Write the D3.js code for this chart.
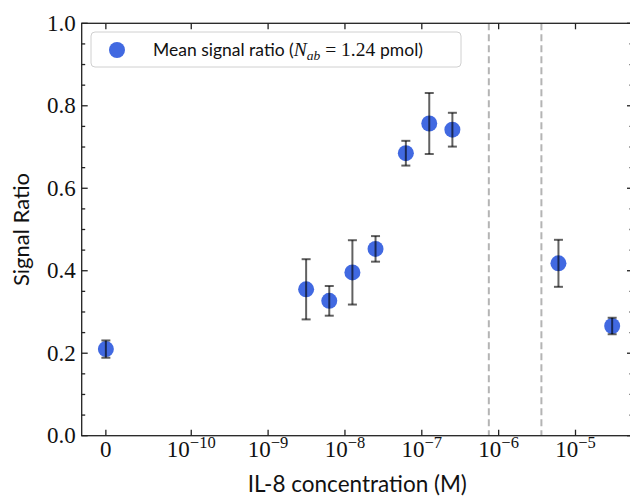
<!DOCTYPE html>
<html><head><meta charset="utf-8">
<script src="https://cdn.jsdelivr.net/npm/d3@7"></script>
<style>body{margin:0;background:#fff}svg{display:block}</style>
</head><body><svg id="c" width="630" height="498"></svg>
<script>
// ---- data ----
const concentrations = [0, 3.125e-9, 6.25e-9, 1.25e-8, 2.5e-8, 6.2e-8, 1.25e-7, 2.5e-7, 6.0e-6, 3.0e-5];
const meanRatio     = [0.210, 0.355, 0.327, 0.396, 0.453, 0.685, 0.757, 0.742, 0.418, 0.266];
const ratioErr      = [0.021, 0.073, 0.036, 0.078, 0.031, 0.030, 0.074, 0.041, 0.057, 0.020];
const dashedLines   = [7.45e-7, 3.6e-6];
const xTickValues   = [0, 1e-10, 1e-9, 1e-8, 1e-7, 1e-6, 1e-5];
const xTickExp      = [null, -10, -9, -8, -7, -6, -5];
const yTickValues   = [0, 0.2, 0.4, 0.6, 0.8, 1.0];
const yTickLabels   = ["0.0", "0.2", "0.4", "0.6", "0.8", "1.0"];
const xDomain = [-2.83e-11, 5.6e-5];
const yDomain = [0, 1];

// symlog transform (linthresh 1e-10, linscale 1, base 10)
const linthresh = 1e-10, linscaleAdj = 1 / (1 - 1 / 10);
function symlog(v) {
  const a = Math.abs(v), s = Math.sign(v);
  return a <= linthresh ? (v / linthresh) * linscaleAdj : s * (linscaleAdj + Math.log10(a / linthresh));
}

const L = 81.7, R = 633, T = 23.3, B = 435.7;
const tScale = d3.scaleLinear().domain(xDomain.map(symlog)).range([L, R]);
const x = v => tScale(symlog(v));
const y = d3.scaleLinear().domain(yDomain).range([B, T]);

const svg = d3.select("#c");
const serif = "'Liberation Serif', 'DejaVu Serif', serif";
const sans = "Lato, 'Open Sans', sans-serif";

// dashed verticals
svg.selectAll(".vl").data(dashedLines).enter().append("line")
  .attr("x1", d => x(d)).attr("x2", d => x(d)).attr("y1", T).attr("y2", B)
  .attr("stroke", "#b4b4b4").attr("stroke-width", 2).attr("stroke-dasharray", "7,4");

// points
svg.selectAll(".pt").data(concentrations).enter().append("circle")
  .attr("cx", d => x(d)).attr("cy", (d, i) => y(meanRatio[i])).attr("r", 8)
  .attr("fill", "#4169E1");

// error bars
const eb = svg.append("g").attr("stroke", "#000").attr("stroke-opacity", 0.62).attr("stroke-width", 2);
concentrations.forEach((c, i) => {
  const cx = x(c), y0 = y(meanRatio[i] - ratioErr[i]), y1 = y(meanRatio[i] + ratioErr[i]);
  eb.append("line").attr("x1", cx).attr("x2", cx).attr("y1", y0).attr("y2", y1);
  eb.append("line").attr("x1", cx - 4.5).attr("x2", cx + 4.5).attr("y1", y0).attr("y2", y0);
  eb.append("line").attr("x1", cx - 4.5).attr("x2", cx + 4.5).attr("y1", y1).attr("y2", y1);
});

// frame
const ax = svg.append("g").attr("stroke", "#222").attr("stroke-width", 1.3).attr("fill", "none");
ax.append("rect").attr("x", L).attr("y", T).attr("width", R - L).attr("height", B - T);

// ticks
const majorLen = 6, minorLen = 3.5;
xTickValues.forEach(v => {
  ax.append("line").attr("x1", x(v)).attr("x2", x(v)).attr("y1", B).attr("y2", B - majorLen);
  ax.append("line").attr("x1", x(v)).attr("x2", x(v)).attr("y1", T).attr("y2", T + majorLen);
});
const yMinor = d3.range(0, 1.0001, 0.05);
yMinor.forEach(v => {
  const major = yTickValues.some(t => Math.abs(t - v) < 1e-9);
  const len = major ? majorLen : minorLen;
  ax.append("line").attr("x1", L).attr("x2", L + len).attr("y1", y(v)).attr("y2", y(v));
  ax.append("line").attr("x1", R).attr("x2", R - len).attr("y1", y(v)).attr("y2", y(v));
});

// y tick labels
svg.selectAll(".yl").data(yTickValues).enter().append("text")
  .attr("x", L - 6).attr("y", d => y(d) + 7.5).attr("text-anchor", "end")
  .attr("font-family", serif).attr("font-size", 23).attr("fill", "#111")
  .text((d, i) => yTickLabels[i]);

// x tick labels
xTickValues.forEach((v, i) => {
  const t = svg.append("text").attr("x", x(v)).attr("y", B + 21).attr("text-anchor", "middle")
    .attr("font-family", serif).attr("font-size", 23).attr("fill", "#111");
  if (xTickExp[i] === null) { t.text("0"); }
  else {
    t.append("tspan").text("10");
    t.append("tspan").attr("dy", -9).attr("font-size", 16.5).text("\u2212" + Math.abs(xTickExp[i]));
  }
});

// axis labels
svg.append("text").attr("x", (L + R) / 2).attr("y", 492).attr("text-anchor", "middle")
  .attr("font-family", sans).attr("font-size", 22.5).attr("fill", "#111").text("IL-8 concentration (M)");
svg.append("text").attr("transform", `translate(29,${(T + B) / 2}) rotate(-90)`).attr("text-anchor", "middle")
  .attr("font-family", sans).attr("font-size", 22).attr("fill", "#111").text("Signal Ratio");

// legend
const lg = svg.append("g");
lg.append("rect").attr("x", 91).attr("y", 32).attr("width", 370).attr("height", 35).attr("rx", 4)
  .attr("fill", "#fff").attr("fill-opacity", 0.85).attr("stroke", "#d0d0d0").attr("stroke-width", 1);
lg.append("circle").attr("cx", 117).attr("cy", 50).attr("r", 8).attr("fill", "#4169E1");
const lt = lg.append("text").attr("x", 153).attr("y", 56).attr("font-size", 17.5).attr("fill", "#111");
lt.append("tspan").attr("font-family", sans).text("Mean signal ratio (");
lt.append("tspan").attr("font-family", serif).attr("font-style", "italic").attr("font-size", 19.5).text("N");
lt.append("tspan").attr("font-family", serif).attr("font-style", "italic").attr("font-size", 13.5).attr("dy", 4).text("ab");
lt.append("tspan").attr("font-family", serif).attr("font-size", 19.5).attr("dy", -4).text(" = 1.24 ");
lt.append("tspan").attr("font-family", sans).text("pmol)");
</script></body></html>
